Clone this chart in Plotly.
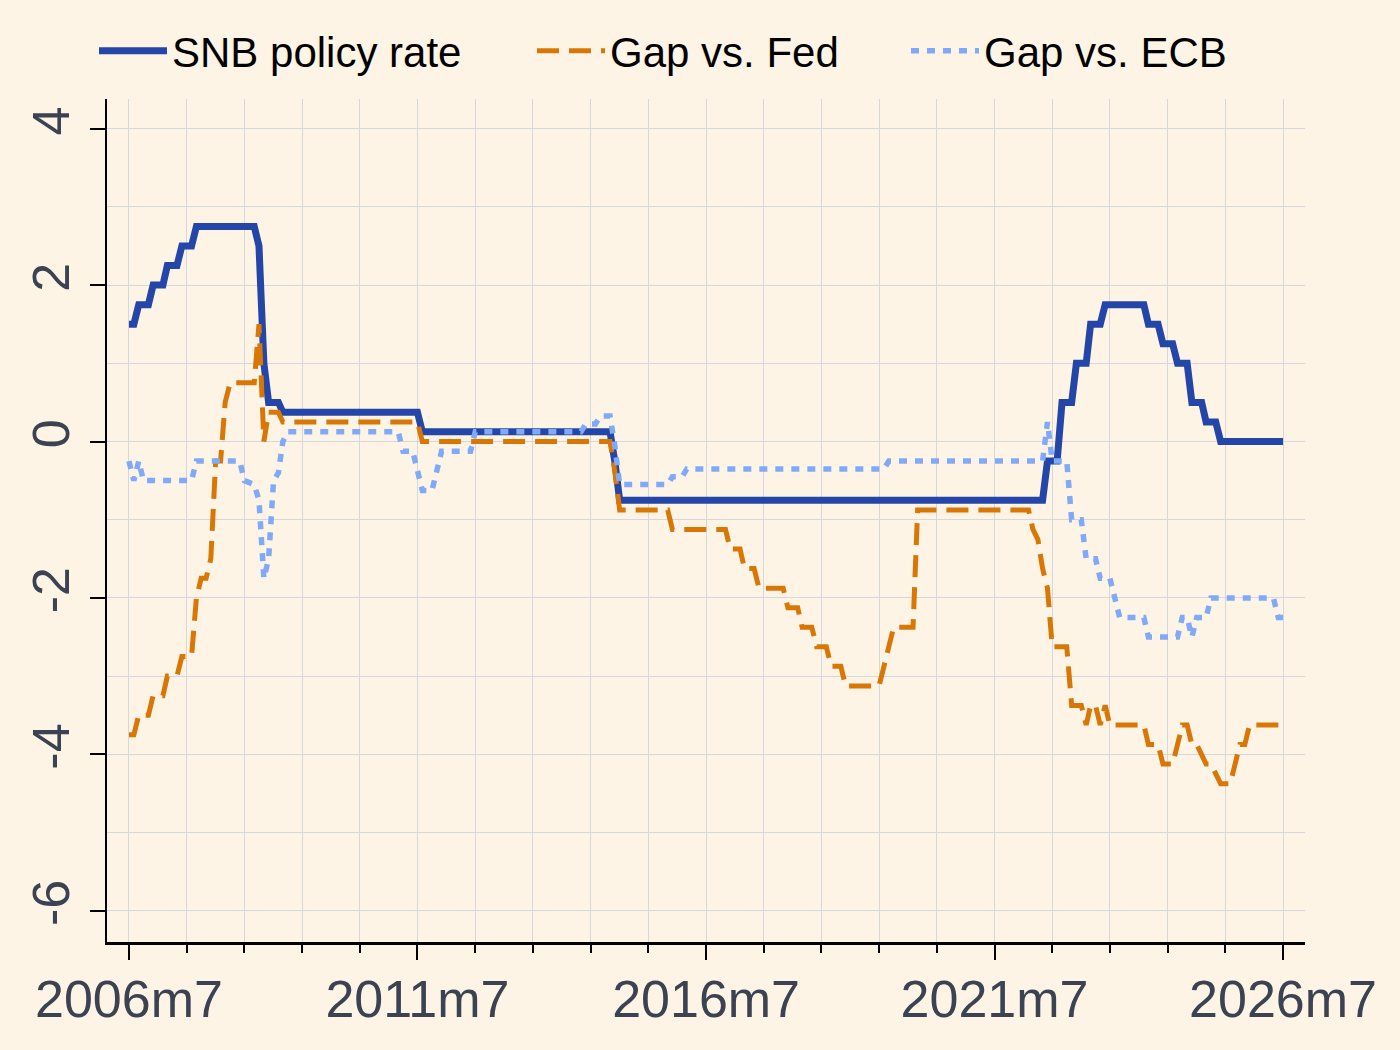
import plotly.graph_objects as go

# ---------------- data (vertices of monthly series) ----------------
snb_months = ["2006m7", "2006m8", "2006m9", "2006m11", "2006m12", "2007m2", "2007m3", "2007m5",
              "2007m6", "2007m8", "2007m9", "2008m9", "2008m10", "2008m11", "2008m12", "2009m2",
              "2009m3", "2011m7", "2011m8", "2014m11", "2014m12", "2015m1", "2022m5", "2022m6",
              "2022m8", "2022m9", "2022m11", "2022m12", "2023m2", "2023m3", "2023m5", "2023m6",
              "2024m2", "2024m3", "2024m5", "2024m6", "2024m8", "2024m9", "2024m11", "2024m12",
              "2025m2", "2025m3", "2025m5", "2025m6", "2026m7"]
snb_values = [1.5, 1.5, 1.75, 1.75, 2.0, 2.0, 2.25, 2.25,
              2.5, 2.5, 2.75, 2.75, 2.5, 1.0, 0.5, 0.5,
              0.375, 0.375, 0.125, 0.125, -0.25, -0.75, -0.75, -0.25,
              -0.25, 0.5, 0.5, 1.0, 1.0, 1.5, 1.5, 1.75,
              1.75, 1.5, 1.5, 1.25, 1.25, 1.0, 1.0, 0.5,
              0.5, 0.25, 0.25, 0.0, 0.0]

fed_months = ["2006m7", "2006m8", "2006m9", "2006m11", "2006m12", "2007m2", "2007m3", "2007m5",
              "2007m6", "2007m8", "2007m9", "2007m10", "2007m11", "2007m12", "2008m1", "2008m2",
              "2008m3", "2008m4", "2008m9", "2008m10", "2008m11", "2008m12", "2009m2", "2009m3",
              "2011m7", "2011m8", "2014m11", "2014m12", "2015m1", "2015m11", "2015m12", "2016m11",
              "2016m12", "2017m2", "2017m3", "2017m5", "2017m6", "2017m11", "2017m12", "2018m2",
              "2018m3", "2018m5", "2018m6", "2018m8", "2018m9", "2018m11", "2018m12", "2019m7",
              "2019m8", "2019m9", "2019m10", "2020m2", "2020m3", "2022m2", "2022m3", "2022m4",
              "2022m5", "2022m6", "2022m7", "2022m10", "2022m11", "2023m1", "2023m2", "2023m3",
              "2023m4", "2023m5", "2023m6", "2023m7", "2024m2", "2024m3", "2024m5", "2024m6",
              "2024m8", "2024m9", "2024m10", "2024m11", "2024m12", "2025m1", "2025m2", "2025m3",
              "2025m4", "2025m5", "2025m6", "2025m8", "2025m9", "2025m10", "2025m11", "2025m12",
              "2026m7"]
fed_values = [-3.75, -3.75, -3.5, -3.5, -3.25, -3.25, -3.0, -3.0,
              -2.75, -2.75, -2.0, -1.75, -1.75, -1.5, -0.25, -0.25,
              0.5, 0.75, 0.75, 1.5, 0.0, 0.375, 0.375, 0.25,
              0.25, 0.0, 0.0, -0.375, -0.875, -0.875, -1.125, -1.125,
              -1.375, -1.375, -1.625, -1.625, -1.875, -1.875, -2.125, -2.125,
              -2.375, -2.375, -2.625, -2.625, -2.875, -2.875, -3.125, -3.125,
              -2.875, -2.625, -2.375, -2.375, -0.875, -0.875, -1.125, -1.25,
              -1.625, -1.875, -2.625, -2.625, -3.375, -3.375, -3.625, -3.375,
              -3.375, -3.625, -3.375, -3.625, -3.625, -3.875, -3.875, -4.125,
              -4.125, -3.875, -3.625, -3.625, -3.875, -3.875, -4.0, -4.125,
              -4.125, -4.25, -4.375, -4.375, -4.125, -3.875, -3.875, -3.625,
              -3.625]

ecb_months = ["2006m7", "2006m8", "2006m9", "2006m10", "2007m8", "2007m9", "2008m6", "2008m7",
              "2008m9", "2008m10", "2008m11", "2008m12", "2009m1", "2009m2", "2009m3", "2009m4",
              "2011m3", "2011m4", "2011m6", "2011m7", "2011m8", "2011m10", "2011m11", "2011m12",
              "2012m6", "2012m7", "2014m5", "2014m6", "2014m8", "2014m9", "2014m11", "2014m12",
              "2015m1", "2015m11", "2015m12", "2016m2", "2016m3", "2019m8", "2019m9", "2022m5",
              "2022m6", "2022m7", "2022m10", "2022m11", "2023m1", "2023m2", "2023m4", "2023m5",
              "2023m7", "2023m8", "2023m9", "2024m2", "2024m3", "2024m9", "2024m10", "2024m11",
              "2024m12", "2025m1", "2025m3", "2025m4", "2026m5", "2026m6", "2026m7"]
ecb_values = [-0.25, -0.5, -0.25, -0.5, -0.5, -0.25, -0.25, -0.5,
              -0.55, -0.75, -1.75, -1.5, -0.5, -0.4, 0.0, 0.125,
              0.125, -0.125, -0.125, -0.375, -0.625, -0.625, -0.375, -0.125,
              -0.125, 0.125, 0.125, 0.225, 0.225, 0.325, 0.325, -0.05,
              -0.55, -0.55, -0.45, -0.45, -0.35, -0.35, -0.25, -0.25,
              0.25, -0.25, -0.25, -1.0, -1.0, -1.5, -1.5, -1.75,
              -1.75, -2.0, -2.25, -2.25, -2.5, -2.5, -2.25, -2.25,
              -2.5, -2.25, -2.25, -2.0, -2.0, -2.25, -2.25]

x_tick_labels = ["2006m7", "2011m7", "2016m7", "2021m7", "2026m7"]
y_tick_values = [-6, -4, -2, 0, 2, 4]


def to_date(label):
    year, month = label.split("m")
    return f"{int(year):04d}-{int(month):02d}-01"


# ---------------- styling ----------------
BG = "#fef4e6"
GRID = "#d6d7dc"
TICKFONT = dict(family="Liberation Sans, Arial, sans-serif", size=52, color="#3b4252")
LEGFONT = dict(family="Liberation Sans, Arial, sans-serif", size=42, color="#000000")

fig = go.Figure()
fig.add_trace(go.Scatter(
    x=[to_date(m) for m in snb_months], y=snb_values, mode="lines",
    name="SNB policy rate", legend="legend",
    line=dict(color="#2346a8", width=7)))
fig.add_trace(go.Scatter(
    x=[to_date(m) for m in fed_months], y=fed_values, mode="lines",
    name="Gap vs. Fed", legend="legend2",
    line=dict(color="#d97706", width=5, dash="22px,10px")))
fig.add_trace(go.Scatter(
    x=[to_date(m) for m in ecb_months], y=ecb_values, mode="lines",
    name="Gap vs. ECB", legend="legend3",
    line=dict(color="#80aaf7", width=5.5, dash="8px,8px")))


def leg(xpx):
    return dict(x=xpx / 1400, xref="container", y=1 - 51 / 1050, yref="container",
                xanchor="left", yanchor="middle", orientation="h", itemwidth=68,
                font=LEGFONT, bgcolor="rgba(0,0,0,0)", borderwidth=0)


fig.update_layout(
    width=1400, height=1050,
    paper_bgcolor=BG, plot_bgcolor=BG,
    margin=dict(l=107, r=95, t=99, b=108),
    showlegend=True,
    legend=leg(94), legend2=leg(532), legend3=leg(906),
    xaxis=dict(
        type="date",
        range=["2006-02-12", "2026-11-17"],
        tickmode="array",
        tickvals=[to_date(t) for t in x_tick_labels],
        ticktext=x_tick_labels,
        ticks="outside", ticklen=15, tickwidth=2, tickcolor="#000000",
        ticklabelstandoff=-5,
        showgrid=True, gridcolor=GRID, gridwidth=1.4,
        minor=dict(tickmode="linear", tick0="2006-07-01", dtick="M12",
                   ticks="outside", ticklen=8, tickwidth=1.5, tickcolor="#000000",
                   showgrid=True, gridcolor=GRID, gridwidth=1.4),
        showline=True, linecolor="#000000", linewidth=2.5,
        zeroline=False, tickfont=TICKFONT,
    ),
    yaxis=dict(
        range=[-6.4, 4.38],
        tickmode="array", tickvals=y_tick_values,
        ticktext=[str(v) for v in y_tick_values],
        tickangle=-90,
        ticks="outside", ticklen=15, tickwidth=2, tickcolor="#000000",
        showgrid=True, gridcolor=GRID, gridwidth=1.4,
        minor=dict(tickmode="linear", tick0=0, dtick=1, ticks="", ticklen=0,
                   showgrid=True, gridcolor=GRID, gridwidth=1.4),
        showline=True, linecolor="#000000", linewidth=2,
        zeroline=False, tickfont=TICKFONT,
    ),
)

fig.write_html("out.html")
